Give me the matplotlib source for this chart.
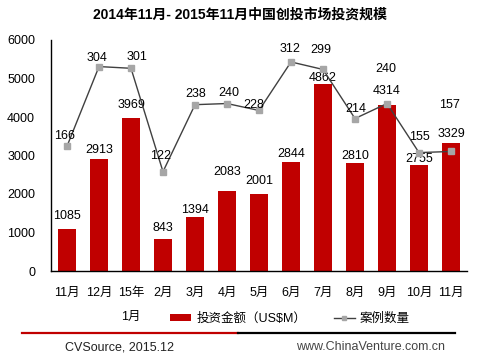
"""Venture investment in China, Nov 2014 - Nov 2015: amount (bars) and deal count (line)."""

import matplotlib

matplotlib.use("Agg")
import matplotlib.pyplot as plt
from matplotlib.lines import Line2D
from matplotlib.patches import Patch

plt.rcParams["font.family"] = ["Liberation Sans", "Noto Sans CJK SC", "DejaVu Sans"]

months = ["11月", "12月", "15年\n1月", "2月", "3月", "4月", "5月",
          "6月", "7月", "8月", "9月", "10月", "11月"]
amount_musd = [1085, 2913, 3969, 843, 1394, 2083, 2001, 2844, 4862, 2810, 4314, 2755, 3329]
deal_count = [166, 304, 301, 122, 238, 240, 228, 312, 299, 214, 240, 155, 157]

# label nudges in pixels (dx, dy), as placed by hand in the original
bar_label_dy = [13, 9, 13, 11, 7, 19, 13, 8, 6, 7, 14, 6, 9]
line_label_off = [(-2, 10), (-2, 9), (6, 11), (-2, 16), (1, 11), (2, 11), (-5, 5),
                  (-1, 13), (-2, 19), (1, 10), (-1, 35), (0, 16), (-2, 46)]

BAR_RED = "#C00000"

fig = plt.figure(figsize=(4.88, 3.6), dpi=100)
ax = fig.add_axes([51 / 488, 1 - 271 / 360, 416 / 488, 231 / 360])

x = range(len(months))
ax.bar(x, amount_musd, width=0.56, color=BAR_RED, zorder=2)
ax.set_xlim(-0.5, len(months) - 0.5)
ax.set_ylim(0, 6000)
ax.set_yticks(range(0, 6001, 1000))
ax.set_xticks(list(x))
ax.set_xticklabels(months, linespacing=2.3)
ax.tick_params(axis="both", length=0, labelsize=9)
ax.tick_params(axis="y", pad=11.5)
ax.tick_params(axis="x", pad=11.5)
for side in ("top", "right"):
    ax.spines[side].set_visible(False)
for side in ("left", "bottom"):
    ax.spines[side].set_linewidth(1.0)
    ax.spines[side].set_color("black")

for i, (v, dy) in enumerate(zip(amount_musd, bar_label_dy)):
    ax.annotate(str(v), (i, v), xytext=(0, dy), textcoords="offset pixels",
                ha="center", va="center", fontsize=9, zorder=5)

ax2 = ax.twinx()
ax2.set_ylim(-50, 350)
ax2.axis("off")
ax2.plot(list(x), deal_count, color="#404040", linewidth=1.0, marker="s",
         markersize=4, markerfacecolor="#A6A6A6", markeredgecolor="#A6A6A6", zorder=3)
for i, (v, (dx, dy)) in enumerate(zip(deal_count, line_label_off)):
    ax2.annotate(str(v), (i, v), xytext=(dx, dy), textcoords="offset pixels",
                 ha="center", va="center", fontsize=9, zorder=5)

fig.text(240 / 488, 1 - 15 / 360, "2014年11月- 2015年11月中国创投市场投资规模",
         ha="center", va="center", fontsize=10, fontweight="bold")

handles = [
    Patch(facecolor=BAR_RED, edgecolor="none"),
    Line2D([0], [0], color="#404040", linewidth=1.0, marker="s", markersize=3,
           markerfacecolor="#A6A6A6", markeredgecolor="#A6A6A6"),
]
fig.legend(handles, ["投资金额（US$M）", "案例数量"], loc="center",
           bbox_to_anchor=(290 / 488, 1 - 319 / 360), ncol=2, frameon=False,
           fontsize=9, handlelength=1.7, handleheight=0.5, handletextpad=0.4,
           columnspacing=2.2)

y_rule = 1 - 333 / 360
fig.add_artist(Line2D([22 / 488, 238 / 488], [y_rule, y_rule], color="#C00000", linewidth=1.6))
fig.add_artist(Line2D([238 / 488, 455 / 488], [y_rule, y_rule], color="black", linewidth=1.6))

fig.text(65 / 488, 1 - 347 / 360, "CVSource, 2015.12", ha="left", va="center",
         fontsize=9, color="#222222")
fig.text(445 / 488, 1 - 347 / 360, "www.ChinaVenture.com.cn", ha="right", va="center",
         fontsize=9, color="#444444")

fig.savefig("out.png", dpi=100)
